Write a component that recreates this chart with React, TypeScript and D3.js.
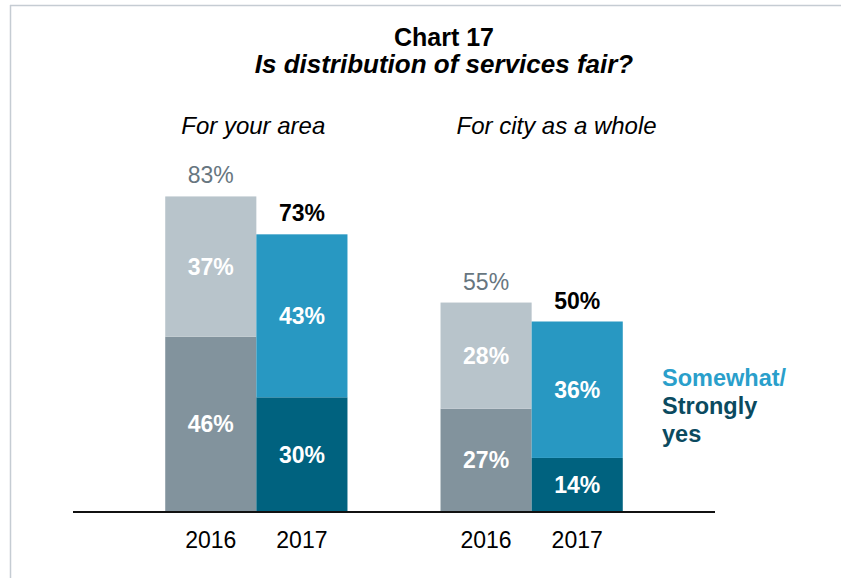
import React from "react";
import * as d3 from "d3";

const groups = ["For your area", "For city as a whole"];
const years = ["2016", "2017"];
// Strongly yes (bottom) and Somewhat yes (top), per group, per year
const stronglyYes = [
  [46, 30],
  [27, 14],
];
const somewhatYes = [
  [37, 43],
  [28, 36],
];
const totals = [
  [83, 73],
  [55, 50],
];

const W = 841;
const H = 578;
const FONT = "'Liberation Sans', Arial, sans-serif";

const bottomColors = ["#82939d", "#00627f"];
const topColors = ["#b8c4cb", "#2898c2"];

const App = () => {
  const x0 = d3
    .scaleBand()
    .domain(groups)
    .range([73, 715])
    .paddingInner(0.338)
    .paddingOuter(0.335);
  const x1 = d3.scaleBand().domain(years).range([0, x0.bandwidth()]).padding(0);
  const y = d3.scaleLinear().domain([0, 100]).range([511, 132]);

  return (
    <svg
      width={W}
      height={H}
      style={{ position: "absolute", left: 0, top: 0, fontFamily: FONT }}
    >
      <rect width={W} height={H} fill="#fff" />
      {/* frame */}
      <line x1={10.5} x2={10.5} y1={5} y2={H} stroke="#c5ccd3" strokeWidth={1.5} />
      <line x1={10} x2={W} y1={5.5} y2={5.5} stroke="#c5ccd3" strokeWidth={1.5} />

      <text x={444} y={46} textAnchor="middle" fontSize={25} fontWeight="bold">
        Chart 17
      </text>
      <text
        x={444}
        y={73}
        textAnchor="middle"
        fontSize={26}
        fontWeight="bold"
        fontStyle="italic"
      >
        Is distribution of services fair?
      </text>

      {groups.map((g, gi) => (
        <g key={g} transform={`translate(${x0(g)},0)`}>
          {/* subtitle is left-aligned a little inside the group */}
          <text x={16} y={134} fontSize={24} fontStyle="italic">
            {g}
          </text>
          {years.map((yr, yi) => {
            const bx = x1(yr);
            const bw = x1.bandwidth();
            const cx = bx + bw / 2;
            const b = stronglyYes[gi][yi];
            const t = somewhatYes[gi][yi];
            const tot = totals[gi][yi];
            return (
              <g key={yr}>
                <rect x={bx} width={bw} y={y(b)} height={y(0) - y(b)} fill={bottomColors[yi]} />
                <rect x={bx} width={bw} y={y(b + t)} height={y(b) - y(b + t)} fill={topColors[yi]} />
                <text
                  x={cx}
                  y={(y(0) + y(b)) / 2 + 8.5}
                  textAnchor="middle"
                  fontSize={23}
                  fontWeight="bold"
                  fill="#fff"
                >
                  {b}%
                </text>
                <text
                  x={cx}
                  y={(y(b) + y(b + t)) / 2 + 8.5}
                  textAnchor="middle"
                  fontSize={23}
                  fontWeight="bold"
                  fill="#fff"
                >
                  {t}%
                </text>
                <text
                  x={cx}
                  y={y(tot) - 13}
                  textAnchor="middle"
                  fontSize={23}
                  fontWeight={yi === 1 ? "bold" : "normal"}
                  fill={yi === 1 ? "#000" : "#67767f"}
                >
                  {tot}%
                </text>
                <text x={cx} y={548} textAnchor="middle" fontSize={23} fill="#000">
                  {yr}
                </text>
              </g>
            );
          })}
        </g>
      ))}

      <line x1={73} x2={715} y1={y(0) + 1} y2={y(0) + 1} stroke="#111" strokeWidth={2} />

      <text x={662} y={386} fontSize={23.5} fontWeight="bold" fill="#2a9fcb">
        Somewhat/
      </text>
      <text x={662} y={414} fontSize={23.5} fontWeight="bold" fill="#0b4a5f">
        Strongly
      </text>
      <text x={662} y={442} fontSize={23.5} fontWeight="bold" fill="#0b4a5f">
        yes
      </text>
    </svg>
  );
};

export default App;
